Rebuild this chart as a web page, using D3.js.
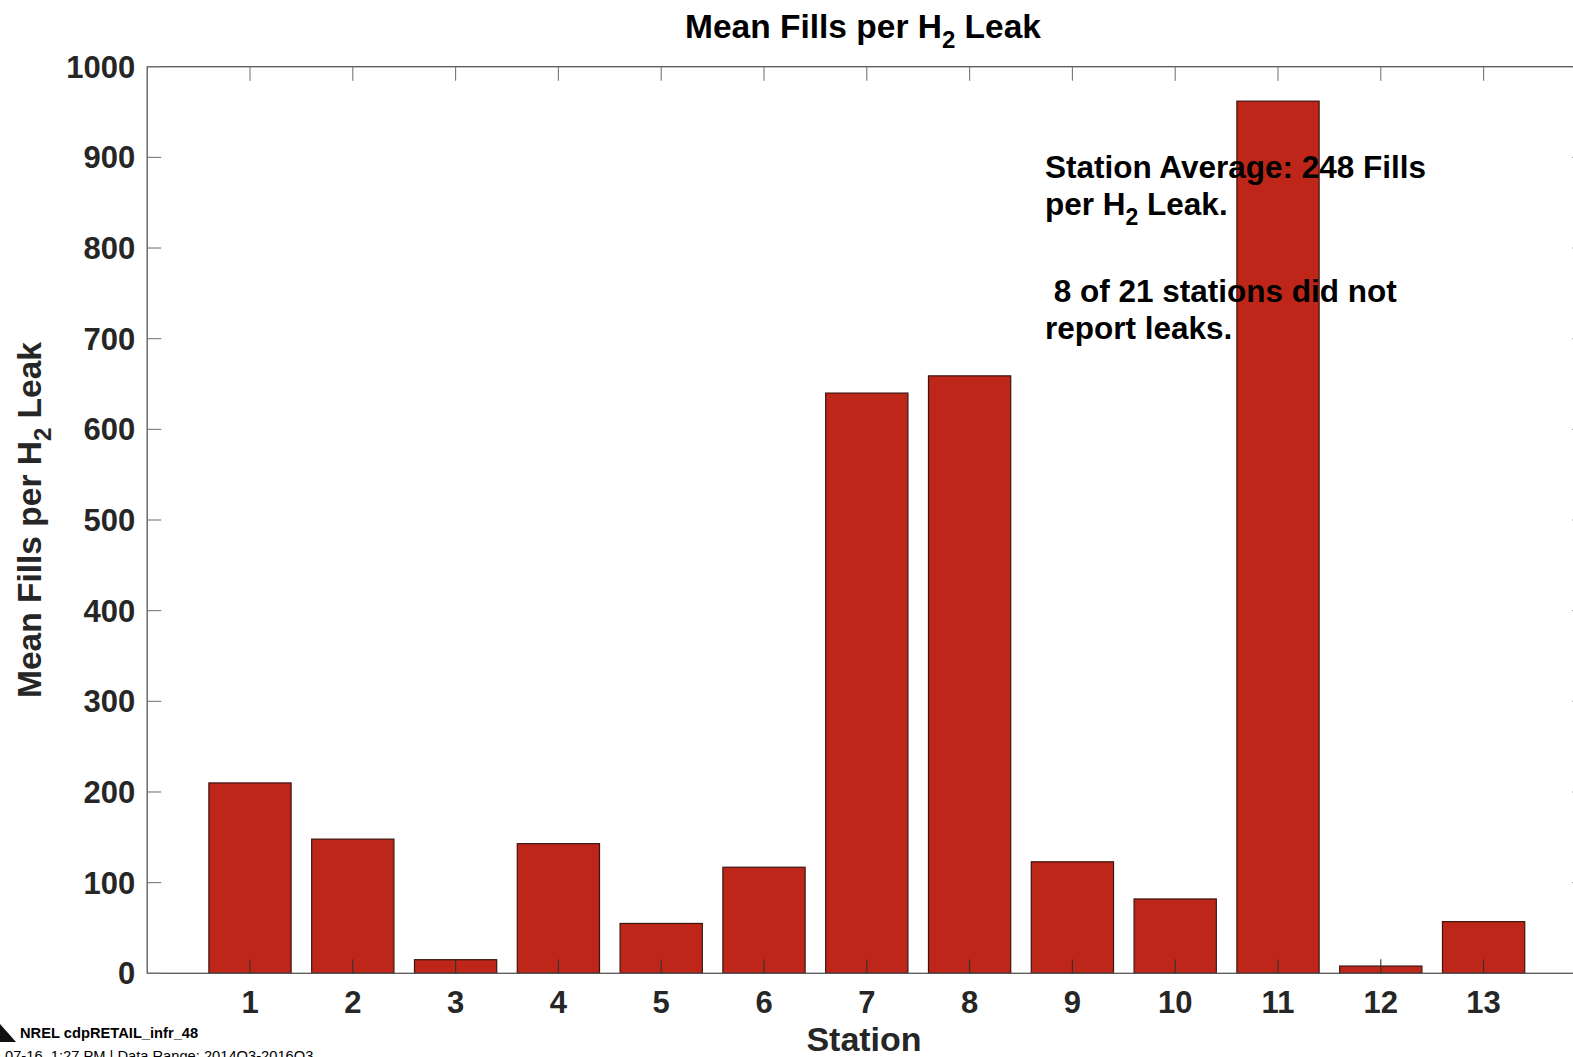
<!DOCTYPE html>
<html><head><meta charset="utf-8">
<script src="https://cdn.jsdelivr.net/npm/d3@7"></script>
<style>
body{margin:0;background:#fff;overflow:hidden}
text{font-family:"Liberation Sans",Arial,sans-serif}
</style></head>
<body><svg id="c" width="1573" height="1057"></svg>
<script>
const stations = [1,2,3,4,5,6,7,8,9,10,11,12,13];
const fillsPerLeak = [210,148,15,143,55,117,640,659,123,82,962,8,57];
const yTicks = [0,100,200,300,400,500,600,700,800,900,1000];
const xTicks = [1,2,3,4,5,6,7,8,9,10,11,12,13];

const svg = d3.select("#c");
const L=147.2, R=1586.4, T=66.7, B=973.3;
const x = d3.scaleLinear().domain([0,14]).range([L,R]);
const y = d3.scaleLinear().domain([0,1000]).range([B,T]);
const bw = (x(1)-x(0))*0.8;

// bars
svg.append("g").selectAll("rect").data(stations).join("rect")
  .attr("x",(d)=>x(d)-bw/2)
  .attr("y",(d,i)=>y(fillsPerLeak[i]))
  .attr("width",bw)
  .attr("height",(d,i)=>y(0)-y(fillsPerLeak[i]))
  .attr("fill","#BE2619").attr("stroke","#3b1510").attr("stroke-width",1.2);

// axes box
const axCol="#555";
svg.append("rect").attr("x",L).attr("y",T).attr("width",R-L).attr("height",B-T)
  .attr("fill","none").attr("stroke",axCol).attr("stroke-width",1.3);
const tl=14;
const tg=svg.append("g").attr("stroke","#333").attr("stroke-width",1.1);
xTicks.forEach(t=>{
  tg.append("line").attr("x1",x(t)).attr("x2",x(t)).attr("y1",B).attr("y2",B-tl);
  tg.append("line").attr("x1",x(t)).attr("x2",x(t)).attr("y1",T).attr("y2",T+tl).attr("stroke","#777");
});
yTicks.forEach(t=>{
  tg.append("line").attr("x1",L).attr("x2",L+tl).attr("y1",y(t)).attr("y2",y(t)).attr("stroke","#777");
  tg.append("line").attr("x1",R).attr("x2",R-tl).attr("y1",y(t)).attr("y2",y(t)).attr("stroke","#777");
});

// tick labels
svg.append("g").selectAll("text").data(yTicks).join("text")
  .attr("x",L-12).attr("y",d=>y(d)+11).attr("text-anchor","end")
  .attr("font-size",31).attr("font-weight","bold").attr("fill","#262626").text(d=>d);
svg.append("g").selectAll("text").data(xTicks).join("text")
  .attr("x",d=>x(d)).attr("y",B+40).attr("text-anchor","middle")
  .attr("font-size",31).attr("font-weight","bold").attr("fill","#262626").text(d=>d);

// axis titles
svg.append("text").attr("x",864).attr("y",1051).attr("text-anchor","middle")
  .attr("font-size",34).attr("font-weight","bold").attr("fill","#262626").text("Station");
const yl = svg.append("text").attr("transform","translate(41,520) rotate(-90)")
  .attr("text-anchor","middle").attr("font-size",33.5).attr("font-weight","bold").attr("fill","#262626");
yl.append("tspan").text("Mean Fills per H");
yl.append("tspan").attr("font-size",24).attr("dy",10).text("2");
yl.append("tspan").attr("dy",-10).text(" Leak");

// title
const tt = svg.append("text").attr("x",863).attr("y",38).attr("text-anchor","middle")
  .attr("font-size",33.5).attr("font-weight","bold").attr("fill","#000");
tt.append("tspan").text("Mean Fills per H");
tt.append("tspan").attr("font-size",24).attr("dy",10).text("2");
tt.append("tspan").attr("dy",-10).text(" Leak");

// annotation
const ann = svg.append("g").attr("font-size",31.5).attr("font-weight","bold").attr("fill","#000");
ann.append("text").attr("x",1045).attr("y",178).text("Station Average: 248 Fills");
const a2 = ann.append("text").attr("x",1045).attr("y",215);
a2.append("tspan").text("per H");
a2.append("tspan").attr("font-size",23).attr("dy",10).text("2");
a2.append("tspan").attr("dy",-10).text(" Leak.");
ann.append("text").attr("x",1045).attr("y",302).text("\u00a08 of 21 stations did not");
ann.append("text").attr("x",1045).attr("y",339).text("report leaks.");

// footer
svg.append("path").attr("d","M0,1024 L16,1042 L0,1042 Z").attr("fill","#111");
svg.append("text").attr("x",20).attr("y",1038).attr("font-size",14.7).attr("font-weight","bold").attr("fill","#000").text("NREL cdpRETAIL_infr_48");
svg.append("text").attr("x",5).attr("y",1061).attr("font-size",14.7).attr("fill","#000").text("07-16, 1:27 PM | Data Range: 2014Q3-2016Q3");
</script></body></html>
